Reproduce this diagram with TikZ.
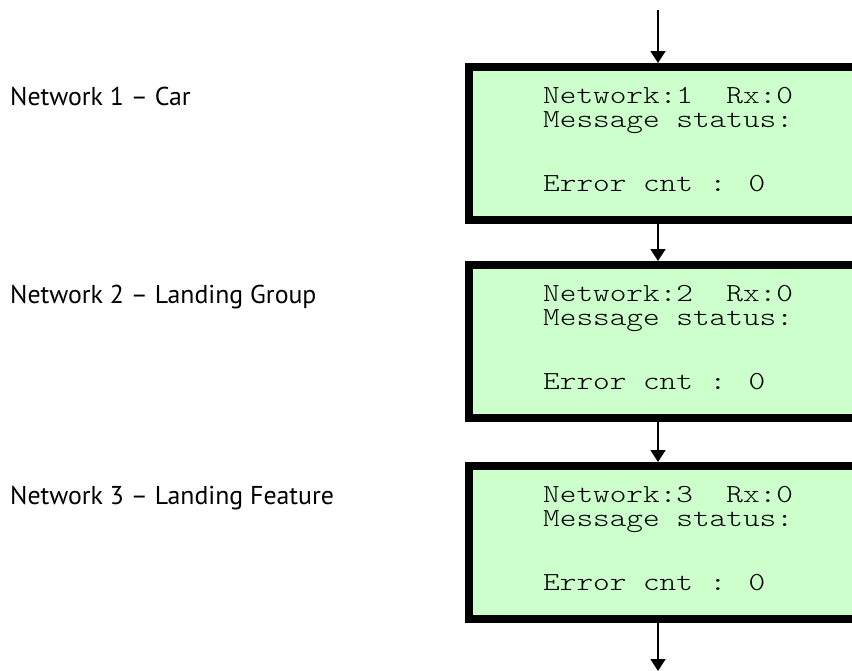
\documentclass[tikz,border=0pt]{standalone}
\usepackage{fontspec}
\setmainfont{PT Sans}
\newfontfamily\monofont{Latin Modern Mono Light}[FakeStretch=1.22]
\usetikzlibrary{arrows.meta}
\definecolor{lcdgreen}{HTML}{CCFFCC}
\tikzset{
  lcdbox/.style={draw=black, fill=lcdgreen, line width=8pt, rectangle,
    anchor=north west, minimum width=450pt, minimum height=153pt, inner sep=0pt},
  lcdtext/.style={anchor=base west, inner sep=0pt, text height=16pt, text depth=4pt,
    font=\monofont\fontsize{26}{26}\selectfont},
  netlabel/.style={anchor=base west, inner sep=0pt, font=\fontsize{25.8}{25.8}\selectfont},
  flow/.style={line width=1.7pt, -{Triangle[length=12pt,width=15pt]}}
}
\begin{document}
\begin{tikzpicture}[x=1pt,y=-1pt]
\clip (0,0) rectangle (852,670);
\fill[white] (0,0) rectangle (852,670);
\coordinate (ax) at (658,0);
\coordinate (top) at (658,10);
\coordinate (bot) at (658,671);
\foreach \i/\dy/\lab in {1/0/Car, 2/198/Landing Group, 3/399/Landing Feature} {
  \node[lcdbox] (b\i) at (465,63+\dy) {};
  \node[lcdtext] (n\i) at (543,103+\dy) {Network:\i~~Rx:0};
  \node[lcdtext] (m\i) at (543,127+\dy) {Message status:};
  \node[lcdtext] (e\i) at (543,191+\dy) {Error cnt : 0};
  \node[netlabel] (l\i) at (10,105+\dy) {Network \i{} – \lab};
}
\draw[flow] (top) -- (b1.north -| ax);
\draw[flow] (b1.south -| ax) -- (b2.north -| ax);
\draw[flow] (b2.south -| ax) -- (b3.north -| ax);
\draw[flow] (b3.south -| ax) -- (bot);
\end{tikzpicture}
\end{document}
